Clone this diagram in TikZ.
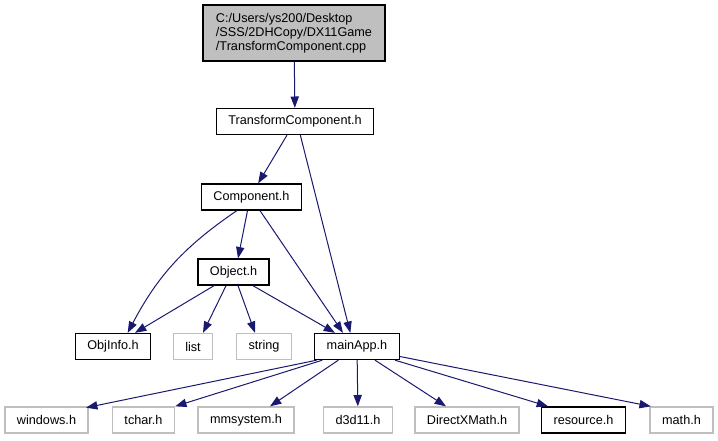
\documentclass[tikz,border=0pt]{standalone}
\usepackage{fontspec}
\setmainfont{Liberation Sans}
\usetikzlibrary{arrows.meta,positioning}
\definecolor{edgeblue}{HTML}{191970}
\definecolor{lightline}{HTML}{BFBFBF}

\begin{document}
\begin{tikzpicture}[x=0.75pt, y=-0.75pt,
  every node/.style={rectangle, draw=black, line width=1pt, inner xsep=9pt, inner ysep=0pt, minimum height=19.5pt, font=\fontsize{9.5}{10.5}\selectfont},
  ext/.style={draw=lightline},
  dep/.style={draw=edgeblue, line width=0.75pt, -{Triangle[length=8.5pt,width=6.2pt]}}]
  \useasboundingbox (0,0) rectangle (718,440);
  \node[fill=lightline, align=left, minimum width=136.5pt, minimum height=42pt] (cpp) at (294,33) {C:/Users/ys200/Desktop\\/SSS/2DHCopy/DX11Game\\/TransformComponent.cpp};
  \node (tch) at (295,121.5) {TransformComponent.h};
  \node (comp) at (251.5,197) {Component.h};
  \node (obj) at (233.5,272) {Object.h};
  \node (obji) at (113,346.5) {ObjInfo.h};
  \node[ext] (lst) at (193,346.5) {list};
  \node[ext] (str) at (264,346.5) {string};
  \node (main) at (357,346.5) {mainApp.h};
  \node[ext] (win) at (46.5,420) {windows.h};
  \node[ext] (tc) at (143.5,420) {tchar.h};
  \node[ext] (mms) at (246,420) {mmsystem.h};
  \node[ext] (d3d) at (358,420) {d3d11.h};
  \node[ext] (dxm) at (467,420) {DirectXMath.h};
  \node (res) at (583.5,420) {resource.h};
  \node[ext] (mth) at (681.5,420) {math.h};
  \draw[dep] (cpp) -- (tch);
  \draw[dep] ([xshift=-6pt]tch.south) -- ([xshift=5pt]comp.north);
  \draw[dep] ([xshift=4pt]tch.south) -- ([xshift=-5pt]main.north);
  \draw[dep] ([xshift=-11pt]comp.south) to[bend right=14] ([xshift=11pt]obji.north);
  \draw[dep] ([xshift=-3pt]comp.south) -- ([xshift=3.4pt]obj.north);
  \draw[dep] ([xshift=6.4pt]comp.south) -- ([xshift=-10.5pt]main.north);
  \draw[dep] ([xshift=-14.6pt]obj.south) -- ([xshift=16.5pt]obji.north);
  \draw[dep] ([xshift=-5.6pt]obj.south) -- ([xshift=7.5pt]lst.north);
  \draw[dep] ([xshift=3.4pt]obj.south) -- ([xshift=-6.75pt]str.north);
  \draw[dep] ([xshift=14.6pt]obj.south) -- ([xshift=-16.5pt]main.north);
  \draw[dep] ([xshift=2pt]main.south west) -- ([xshift=-2pt,yshift=-1pt]win.north east);
  \draw[dep] ([xshift=-26pt]main.south) -- (tc.north east);
  \draw[dep] ([xshift=-14pt]main.south) -- ([xshift=18pt]mms.north);
  \draw[dep] (main) -- (d3d);
  \draw[dep] ([xshift=13.5pt]main.south) -- ([xshift=-15.75pt]dxm.north);
  \draw[dep] ([xshift=28.5pt]main.south) -- ([xshift=-26.6pt]res.north);
  \draw[dep] ([yshift=-7.5pt]main.east) -- ([xshift=1pt]mth.north west);
\end{tikzpicture}
\end{document}
